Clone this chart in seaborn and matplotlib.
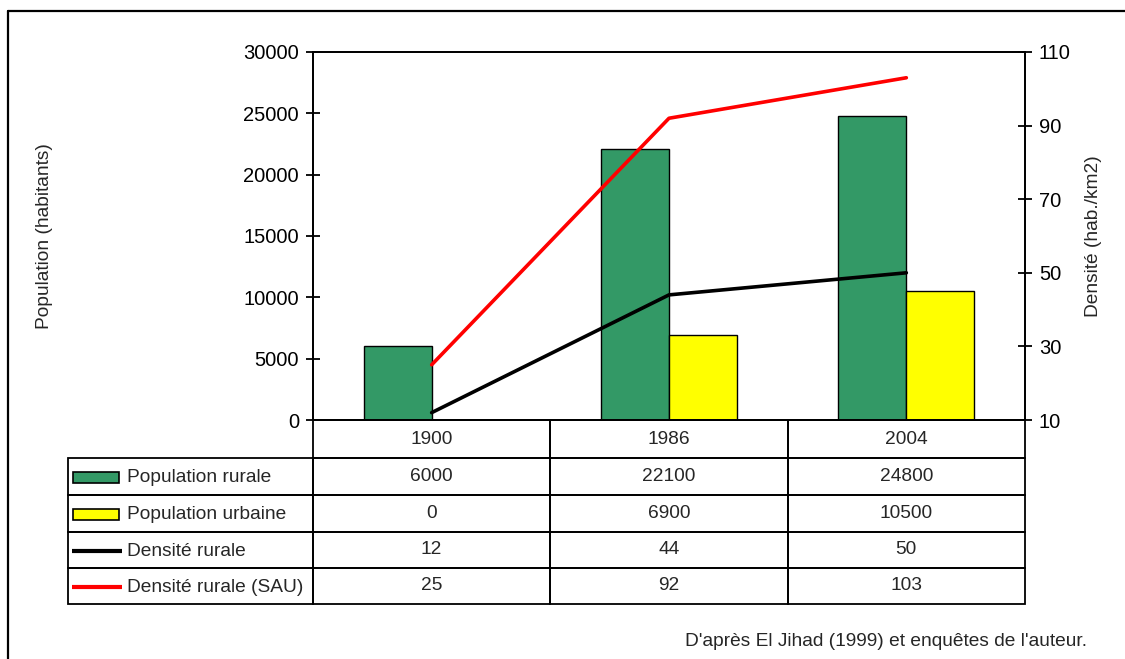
import pandas as pd
import seaborn as sns
import matplotlib.pyplot as plt
from matplotlib.patches import Rectangle
from matplotlib.lines import Line2D

# data
years = ["1900", "1986", "2004"]
pop_rurale = [6000, 22100, 24800]
pop_urbaine = [0, 6900, 10500]
dens_rurale = [12, 44, 50]
dens_sau = [25, 92, 103]

series_names = ["Population rurale", "Population urbaine", "Densité rurale", "Densité rurale (SAU)"]
colors = {"Population rurale": "#339966", "Population urbaine": "#FFFF00",
          "Densité rurale": "black", "Densité rurale (SAU)": "#FF0000"}

W, H = 1125, 659

sns.set_style("white")
plt.rcParams['font.family'] = ['Liberation Sans', 'DejaVu Sans']
plt.rcParams['font.size'] = 13.8

fig = plt.figure(figsize=(W / 100, H / 100), dpi=100)

# plot area (pixel layout of the reference)
left, right, top, bottom = 313, 1025, 52, 420
ax = fig.add_axes([left / W, (H - bottom) / H, (right - left) / W, (bottom - top) / H])

bars = pd.DataFrame({
    "year": years * 2,
    "value": pop_rurale + pop_urbaine,
    "serie": ["Population rurale"] * 3 + ["Population urbaine"] * 3,
})
sns.barplot(data=bars, x="year", y="value", hue="serie", palette=colors,
            width=0.574, edgecolor="black", linewidth=1, saturation=1,
            legend=False, ax=ax)
ax.set_xlim(-0.5, 2.5)
ax.set_ylim(0, 30000)
ax.set_yticks(range(0, 30001, 5000))
ax.set_xticks([])
ax.set_xlabel("")
ax.set_ylabel("Population (habitants)")
ax.yaxis.set_label_coords((53 - left) / (right - left), 0.5)
ax.tick_params(axis="y", direction="inout", length=10, width=1.3, pad=5,
               colors="black", labelsize=14.5)

ax2 = ax.twinx()
pos = list(range(len(years)))
sns.lineplot(x=pos, y=dens_rurale, color=colors["Densité rurale"], linewidth=2.6, ax=ax2)
sns.lineplot(x=pos, y=dens_sau, color=colors["Densité rurale (SAU)"], linewidth=2.6, ax=ax2)
ax2.set_ylim(10, 110)
ax2.set_yticks(range(10, 111, 20))
ax2.set_ylabel("Densité (hab./km2)")
ax2.yaxis.set_label_coords((1085 - left) / (right - left), 0.5)
ax2.tick_params(axis="y", direction="inout", length=10, width=1.3, pad=5,
                colors="black", labelsize=14.5)

for a in (ax, ax2):
    for s in a.spines.values():
        s.set_visible(True)
        s.set_color("black")
        s.set_linewidth(1.3)

# data table under the chart
t_left, t_top, t_bottom = 68, 420, 604
axt = fig.add_axes([t_left / W, (H - t_bottom) / H, (right - t_left) / W, (t_bottom - t_top) / H])
axt.set_xlim(t_left, right)
axt.set_ylim(t_bottom, t_top)
axt.axis("off")

col_w = (right - left) / len(years)
col_edges = [t_left] + [left + i * col_w for i in range(len(years) + 1)]
row_edges = [420, 458, 495, 532, 568, 604]

# header row with years
for j, yr in enumerate(years):
    x0, x1 = col_edges[j + 1], col_edges[j + 2]
    axt.add_patch(Rectangle((x0, row_edges[0]), x1 - x0, row_edges[1] - row_edges[0],
                            fill=False, edgecolor="black", lw=1.3, clip_on=False))
    axt.text((x0 + x1) / 2, (row_edges[0] + row_edges[1]) / 2, yr, ha="center", va="center")

table_values = [pop_rurale, pop_urbaine, dens_rurale, dens_sau]
for i, name in enumerate(series_names):
    y0, y1 = row_edges[i + 1], row_edges[i + 2]
    ym = (y0 + y1) / 2
    for j in range(len(years) + 1):
        x0, x1 = col_edges[j], col_edges[j + 1]
        axt.add_patch(Rectangle((x0, y0), x1 - x0, y1 - y0, fill=False,
                                edgecolor="black", lw=1.3, clip_on=False))
    # legend key
    if i < 2:
        axt.add_patch(Rectangle((73, ym - 5), 46, 11, facecolor=colors[name],
                                edgecolor="black", lw=1.2))
    else:
        axt.plot([72, 122], [ym + 1, ym + 1], color=colors[name], lw=3, solid_capstyle="butt")
    axt.text(127, ym + 1, name, ha="left", va="center")
    for j, v in enumerate(table_values[i]):
        axt.text((col_edges[j + 1] + col_edges[j + 2]) / 2, ym, str(v), ha="center", va="center")

fig.text(1087 / W, (H - 642) / H, "D'après El Jihad (1999) et enquêtes de l'auteur.",
         ha="right", va="center")

# outer chart frame (cut by the image edges on the right and bottom)
fig.add_artist(Line2D([8 / W, 8 / W], [(H - 11) / H, -0.05], color="black", lw=1.6))
fig.add_artist(Line2D([8 / W, 1.05], [(H - 11) / H, (H - 11) / H], color="black", lw=1.6))

fig.savefig("out.png", dpi=100)
